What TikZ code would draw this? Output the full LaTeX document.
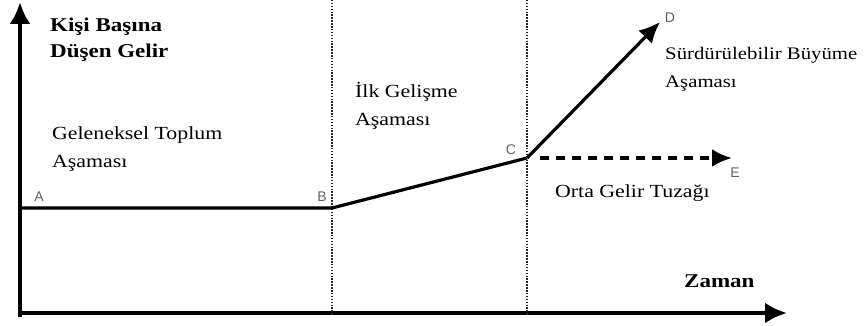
\documentclass[tikz,border=0pt]{standalone}
\usepackage{fontspec}
\setmainfont{Liberation Serif}[FakeStretch=1.18]
\newfontfamily\ptfont{Liberation Sans}
\usepackage{xcolor}
\usepackage{tikz}
\usetikzlibrary{positioning,calc}
\usetikzlibrary{arrows.meta,shapes}
\tikzstyle{axis} = [line width=4.5pt,-{Latex[length=22pt,width=21pt]}]
\tikzstyle{curve} = [line width=3.2pt]
\tikzstyle{stage} = [dash pattern=on 1.5pt off 1.4pt,line width=1.7pt,black!85]
\tikzstyle{txt} = [anchor=west,inner sep=0pt,align=left,font=\fontsize{18.5}{28}\selectfont]
\tikzstyle{head} = [anchor=west,inner sep=0pt,align=left,font=\fontsize{19.5}{26}\selectfont\bfseries]
\tikzstyle{pt} = [inner sep=0pt,text=black!62,font=\ptfont\fontsize{14}{16}\selectfont]

\begin{document}
\begin{tikzpicture}[x=1pt,y=-1pt]
        \useasboundingbox (0,0) rectangle (864,326);
        % axes
        \coordinate (o) at (20,313);
        \coordinate (ytip) at (20,2);
        \coordinate (xtip) at (787,313);
        \draw[axis] ($(o)+(0,4)$) -- (ytip);
        \draw[axis] ($(o)+(-2,0)$) -- (xtip);
        % stage borders
        \coordinate (s1t) at (332,0);
        \coordinate (s1b) at (332,316);
        \coordinate (s2t) at (527,0);
        \coordinate (s2b) at (527,316);
        \draw[stage] (s1t) -- (s1b);
        \draw[stage] (s2t) -- (s2b);
        % path
        \coordinate (A) at (20,208);
        \coordinate (B) at (332,208);
        \coordinate (C) at (527,158);
        \coordinate (D) at (660,22);
        \coordinate (E) at (732,158);
        \draw[curve,line join=round] (A) -- (B) -- (C);
        \draw[curve,-{Latex[length=21pt,width=19pt]}] (C) -- (D);
        \draw[curve,line width=3.6pt,dash pattern=on 9pt off 7pt,shorten <=13pt,-{Latex[length=20pt,width=18pt]}] (C) -- (E);
        \node[pt] (la) at (39,197) {A};
        \node[pt] (lb) at (322,197) {B};
        \node[pt] (lc) at (511,150) {C};
        \node[pt] (ld) at (670,18) {D};
        \node[pt] (le) at (735,173) {E};
        % texts
        \node[head] (ylab) at (50,40) {Kişi Başına\\Düşen Gelir};
        \node[head] (xlab) at (684,281) {Zaman};
        \node[txt] (geleneksel) at (52,149) {Geleneksel Toplum\\Aşaması};
        \node[txt] (ilk) at (355,106) {İlk Gelişme\\Aşaması};
        \node[txt,font=\fontsize{17.6}{28}\selectfont] (surdurulebilir) at (665,69) {Sürdürülebilir Büyüme\\Aşaması};
        \node[txt] (orta) at (555,193) {Orta Gelir Tuzağı};
    \end{tikzpicture}
\end{document}
